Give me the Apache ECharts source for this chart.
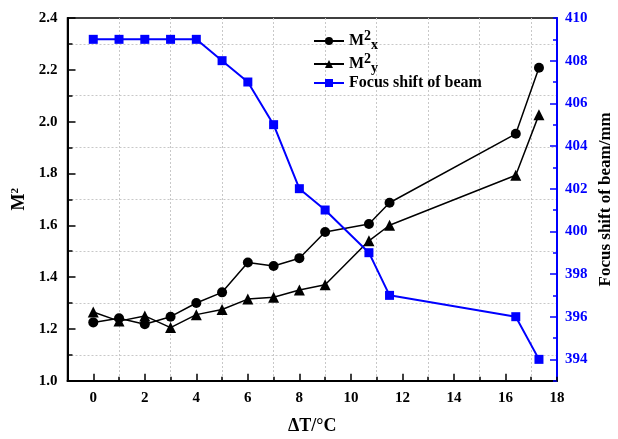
<!DOCTYPE html>
<html><head><meta charset="utf-8">
<script src="https://cdn.jsdelivr.net/npm/echarts@6/dist/echarts.min.js"></script>
<style>html,body{margin:0;padding:0;background:#fff}#c{width:618px;height:439px}</style>
</head><body><div id="c"></div>
<script>
const deltaT = [0, 1, 2, 3, 4, 5, 6, 7, 8, 9, 10.7, 11.5, 16.4, 17.3];
const m2x = [1.225, 1.241, 1.218, 1.247, 1.30, 1.341, 1.456, 1.443, 1.473, 1.574, 1.605, 1.687, 1.953, 2.208];
const m2y = [1.265, 1.23, 1.25, 1.205, 1.255, 1.275, 1.315, 1.322, 1.35, 1.37, 1.54, 1.60, 1.793, 2.027];
const focusShift = [409, 409, 409, 409, 409, 408, 407, 405, 402, 401, 399, 397, 396, 394];
const seriesNames = ['M2x', 'M2y', 'Focus shift of beam'];

const FONT = '"Liberation Serif", "Times New Roman", serif';
const pair = (xs, ys) => xs.map((x, i) => [x, ys[i]]);
const chart = echarts.init(document.getElementById('c'));
const lblStyle = {fontFamily: FONT, fontWeight: 'bold', fontSize: 15, color: '#000'};
const grid = {left: 67.5, right: 61, top: 18, bottom: 58.3, containLabel: false, outerBoundsMode: 'none',
  show: true, borderColor: '#000', borderWidth: 1.5};

chart.setOption({
  animation: false,
  grid: grid,
  legend: {
    orient: 'vertical', left: 308, top: 24, itemWidth: 30, itemHeight: 10, itemGap: 0,
    data: seriesNames,
    formatter: n => n === 'M2x' ? '{b|M}{sup|2}{sub|x}' : n === 'M2y' ? '{b|M}{sup|2}{sub|y}' : '{b|' + n + '}',
    textStyle: {
      fontFamily: FONT, fontWeight: 'bold', fontSize: 16, color: '#000',
      rich: {
        b: {fontFamily: FONT, fontWeight: 'bold', fontSize: 16, color: '#000'},
        sup: {fontFamily: FONT, fontWeight: 'bold', fontSize: 14, color: '#000', padding: [0, 0, 10, 0]},
        sub: {fontFamily: FONT, fontWeight: 'bold', fontSize: 14, color: '#000', padding: [8, 0, 0, 0]}
      }
    }
  },
  xAxis: [{
    type: 'value', min: -1, max: 18, interval: 2,
    axisLine: {onZero: false, lineStyle: {color: '#000', width: 2}},
    axisTick: {show: true, inside: true, length: 4, lineStyle: {color: '#000', width: 1.5}},
    minorTick: {show: true, splitNumber: 2, length: 7, lineStyle: {color: '#000', width: 1.5}},
    splitLine: {show: true, lineStyle: {color: '#c8c8c8', type: [2, 2], width: 1}},
    axisLabel: {show: false},
    name: 'ΔT/°C', nameLocation: 'middle', nameGap: 37,
    nameTextStyle: {fontFamily: FONT, fontWeight: 'bold', fontSize: 18, color: '#000'}
  }, {
    type: 'value', min: -1, max: 18, interval: 1, position: 'bottom',
    axisLine: {show: false, onZero: false}, axisTick: {show: false}, splitLine: {show: false},
    axisLabel: Object.assign({margin: 10, formatter: v => (Math.round(v) % 2 === 0 && v >= 0) ? String(v) : ''}, lblStyle)
  }],
  yAxis: [{
    type: 'value', min: 1.0, max: 2.4, interval: 0.2, position: 'left',
    axisLine: {show: true, onZero: false, lineStyle: {color: '#000', width: 2}},
    axisTick: {show: true, inside: true, length: 8, lineStyle: {color: '#000', width: 1.5}},
    minorTick: {show: true, splitNumber: 2, length: 5, lineStyle: {color: '#000', width: 1.5}},
    splitLine: {show: false},
    minorSplitLine: {show: true, lineStyle: {color: '#c8c8c8', type: [2, 2], width: 1}},
    axisLabel: Object.assign({margin: 10, formatter: v => v.toFixed(1)}, lblStyle),
    name: '{m|M}{s|2}', nameLocation: 'middle', nameGap: 37,
    nameTextStyle: {rich: {
      m: {fontFamily: FONT, fontWeight: 'bold', fontSize: 18, color: '#000'},
      s: {fontFamily: FONT, fontWeight: 'bold', fontSize: 11, color: '#000', padding: [0, 0, 8, 0]}
    }}
  }, {
    type: 'value', min: 393, max: 410, interval: 2, position: 'right',
    axisLine: {show: true, onZero: false, lineStyle: {color: '#0000ff', width: 2}},
    axisTick: {show: true, inside: true, length: 4, lineStyle: {color: '#0000ff', width: 1.5}},
    minorTick: {show: true, splitNumber: 2, length: 7, lineStyle: {color: '#0000ff', width: 1.5}},
    splitLine: {show: false},
    axisLabel: {show: false},
    name: 'Focus shift of beam/mm', nameLocation: 'middle', nameGap: 40, nameRotate: 90,
    nameTextStyle: {fontFamily: FONT, fontWeight: 'bold', fontSize: 17, color: '#000'}
  }, {
    type: 'value', min: 393, max: 410, interval: 1, position: 'right',
    axisLine: {show: false, onZero: false}, axisTick: {show: false}, splitLine: {show: false},
    axisLabel: Object.assign({}, lblStyle, {color: '#0000ff', margin: 8, formatter: v => (Math.round(v) % 2 === 0) ? String(v) : ''})
  }],
  series: [{
    name: seriesNames[0], type: 'line', xAxisIndex: 0, yAxisIndex: 0,
    data: pair(deltaT, m2x), symbol: 'circle', symbolSize: 10,
    lineStyle: {color: '#000', width: 1.5}, itemStyle: {color: '#000'}
  }, {
    name: seriesNames[1], type: 'line', xAxisIndex: 0, yAxisIndex: 0,
    data: pair(deltaT, m2y), symbol: 'triangle', symbolSize: 11,
    lineStyle: {color: '#000', width: 1.5}, itemStyle: {color: '#000'}
  }, {
    name: seriesNames[2], type: 'line', xAxisIndex: 0, yAxisIndex: 1,
    data: pair(deltaT, focusShift), symbol: 'rect', symbolSize: 9,
    lineStyle: {color: '#0000ff', width: 2}, itemStyle: {color: '#0000ff'}
  }]
});
</script></body></html>
